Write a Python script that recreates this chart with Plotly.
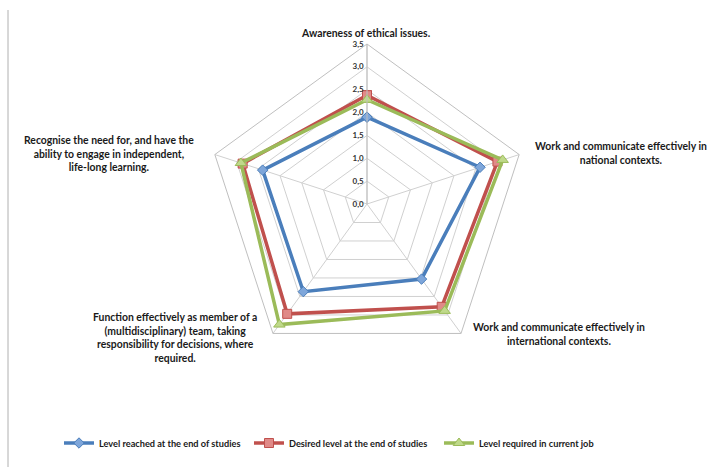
import plotly.graph_objects as go

categories = [
    "Awareness of ethical issues.",
    "Work and communicate effectively in<br>national contexts.",
    "Work and communicate effectively in<br>international contexts.",
    "Function effectively as member of a<br>(multidisciplinary) team, taking<br>responsibility for decisions, where<br>required.",
    "Recognise the need for, and have the<br>ability to engage in independent,<br>life-long learning.",
]
series_names = [
    "Level reached at the end of studies",
    "Desired level at the end of studies",
    "Level required in current job",
]
reached = [1.9, 2.6, 2.03, 2.37, 2.4]
desired = [2.38, 3.0, 2.78, 2.97, 2.86]
required = [2.28, 3.12, 2.89, 3.26, 2.9]
radial_ticks = [0, 0.5, 1.0, 1.5, 2.0, 2.5, 3.0, 3.5]

colors = ["#4A7EBB", "#C0504D", "#9BBB59"]
fills = ["#7EA6DA", "#E08A88", "#BFD98A"]
symbols = ["diamond", "square", "triangle-up"]
sizes = [8, 9, 10]

W, H = 714, 470
cx, cy, R = 367, 204, 160

fig = go.Figure()
for vals, name, c, fc, sym, sz in zip([reached, desired, required], series_names, colors, fills, symbols, sizes):
    fig.add_trace(go.Scatterpolar(
        r=vals + [vals[0]],
        theta=categories + [categories[0]],
        mode="lines+markers",
        name=name,
        line=dict(color=c, width=3.5),
        marker=dict(symbol=sym, size=sz, color=fc, line=dict(color=c, width=1)),
    ))

# label positions (pixel centres) for categories
label_pos = [(366, 33), (621, 153), (559, 334), (175, 337), (109, 153)]
annotations = []
for text, (px, py) in zip(categories, label_pos):
    annotations.append(dict(
        x=px / W, y=1 - py / H, xref="paper", yref="paper",
        text="<b>" + text + "</b>", showarrow=False, align="center",
        xanchor="center", yanchor="middle",
        font=dict(family="Lato", size=10.4, color="#1a1a1a"),
    ))

fig.update_layout(
    width=W, height=H,
    margin=dict(l=0, r=0, t=0, b=0),
    paper_bgcolor="white",
    plot_bgcolor="white",
    separators=", ",
    showlegend=True,
    legend=dict(
        orientation="h", x=59 / W, xanchor="left", y=1 - 443 / H, yanchor="middle",
        font=dict(family="Lato", size=9.2, color="#1a1a1a", weight="bold"),
        itemwidth=30, tracegroupgap=0,
        entrywidth=145, entrywidthmode="pixels",
    ),
    polar=dict(
        domain=dict(x=[(cx - R) / W, (cx + R) / W], y=[1 - (cy + R) / H, 1 - (cy - R) / H]),
        gridshape="linear",
        bgcolor="white",
        radialaxis=dict(
            range=[0, 3.5], tickvals=radial_ticks, tickformat=".1f",
            angle=90, tickangle=90, side="counterclockwise",
            showline=True, linecolor="#BFBFBF", linewidth=1,
            gridcolor="#D0D0D0", gridwidth=1,
            ticks="", tickfont=dict(family="Lato", size=8, color="#333333", weight="bold"),
        ),
        angularaxis=dict(
            type="category", categoryarray=categories,
            rotation=90, direction="clockwise",
            showticklabels=False, ticks="",
            showline=True, linecolor="#BFBFBF", linewidth=1,
            gridcolor="#D0D0D0", gridwidth=1,
        ),
    ),
    annotations=annotations,
    shapes=[dict(type="line", xref="paper", yref="paper",
                 x0=8 / W, x1=8 / W, y0=1 - 10 / H, y1=1 - 467 / H,
                 line=dict(color="#B0B0B0", width=1))],
)

fig.write_html("out.html")
